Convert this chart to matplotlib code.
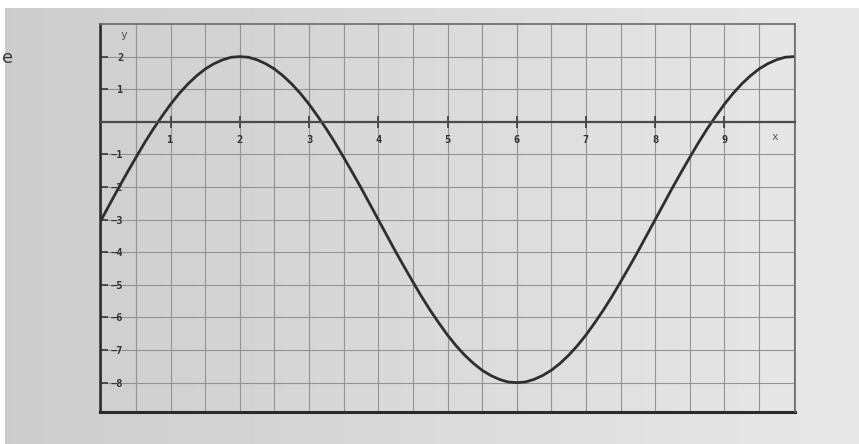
import numpy as np
import matplotlib.pyplot as plt
from matplotlib.ticker import MultipleLocator

# values, one reading every 1/8 unit of x
x_vals = np.arange(0, 10.001, 0.125)
y_vals = [-3.0, -2.51, -2.02, -1.55, -1.09, -0.64, -0.22, 0.17,
          0.54, 0.87, 1.16, 1.41, 1.62, 1.78, 1.9, 1.98,
          2.0, 1.98, 1.9, 1.78, 1.62, 1.41, 1.16, 0.87,
          0.54, 0.17, -0.22, -0.64, -1.09, -1.55, -2.02, -2.51,
          -3.0, -3.49, -3.98, -4.45, -4.91, -5.36, -5.78, -6.17,
          -6.54, -6.87, -7.16, -7.41, -7.62, -7.78, -7.9, -7.98,
          -8.0, -7.98, -7.9, -7.78, -7.62, -7.41, -7.16, -6.87,
          -6.54, -6.17, -5.78, -5.36, -4.91, -4.45, -3.98, -3.49,
          -3.0, -2.51, -2.02, -1.55, -1.09, -0.64, -0.22, 0.17,
          0.54, 0.87, 1.16, 1.41, 1.62, 1.78, 1.9, 1.98,
          2.0]

x_ticks = [1, 2, 3, 4, 5, 6, 7, 8, 9]
y_ticks = [2, 1, -1, -2, -3, -4, -5, -6, -7, -8]

fig = plt.figure(figsize=(8.59, 4.44), dpi=100)
fig.patch.set_facecolor("white")

# photographed paper background (light grey, a bit darker on the left)
bg = fig.add_axes([5 / 859, 0, 1 - 5 / 859, 436 / 444])
bg.imshow(np.linspace(0.80, 0.91, 256)[None, :], cmap="gray", vmin=0, vmax=1,
          aspect="auto", extent=(0, 1, 0, 1))
bg.axis("off")
fig.text(0.002, 1 - 58 / 444, "e", fontsize=13, color="#3a3a3a", va="center")

ax = fig.add_axes([100 / 859, 1 - 412 / 444, 695 / 859, 388 / 444])
ax.patch.set_facecolor("none")
ax.set_xlim(-0.02, 10.02)
ax.set_ylim(-8.9, 3.0)

# grid: every half unit in x, every unit in y
ax.xaxis.set_minor_locator(MultipleLocator(0.5))
ax.set_yticks(y_ticks)
ax.set_yticks([3, 0], minor=True)
ax.grid(which="both", axis="x", color="#939393", lw=0.8)
ax.grid(which="major", axis="y", color="#939393", lw=0.8)

ax.plot(x_vals, y_vals, color="#2e2e2e", lw=2.0, solid_capstyle="round")

# x axis sits at y = 0 inside the box
for s in ["top", "right"]:
    ax.spines[s].set_color("#6a6a6a")
    ax.spines[s].set_linewidth(1.2)
ax.spines["left"].set_color("#2a2a2a")
ax.spines["left"].set_linewidth(1.8)
ax.spines["bottom"].set_position(("data", 0))
ax.spines["bottom"].set_color("#4a4a4a")
ax.spines["bottom"].set_linewidth(1.6)
ax.axhline(ax.get_ylim()[0], color="#2a2a2a", lw=2.2, clip_on=False)

ax.set_xticks(x_ticks)
ax.set_xticklabels([str(v) for v in x_ticks])
ax.tick_params(axis="x", which="major", direction="inout", length=9, width=1.2,
               color="#3a3a3a", pad=5, labelsize=7.5)
ax.tick_params(axis="x", which="minor", length=0)
ax.set_yticklabels([str(v).replace("-", "\u2212") for v in y_ticks])
ax.tick_params(axis="y", which="major", direction="in", length=6, width=1.2,
               color="#3a3a3a", pad=-17, labelsize=7.5)
ax.tick_params(axis="y", which="minor", length=0)
for lab in ax.get_xticklabels() + ax.get_yticklabels():
    lab.set_fontfamily("DejaVu Sans Mono")
    lab.set_fontweight("bold")
    lab.set_color("#333333")

ax.text(0.33, 2.67, "y", fontsize=8, family="DejaVu Sans Mono",
        color="#555555", ha="center", va="center")
ax.text(9.73, -0.47, "x", fontsize=8, family="DejaVu Sans Mono",
        color="#555555", ha="center", va="center")

fig.savefig("out.png", dpi=100, facecolor=fig.get_facecolor())
